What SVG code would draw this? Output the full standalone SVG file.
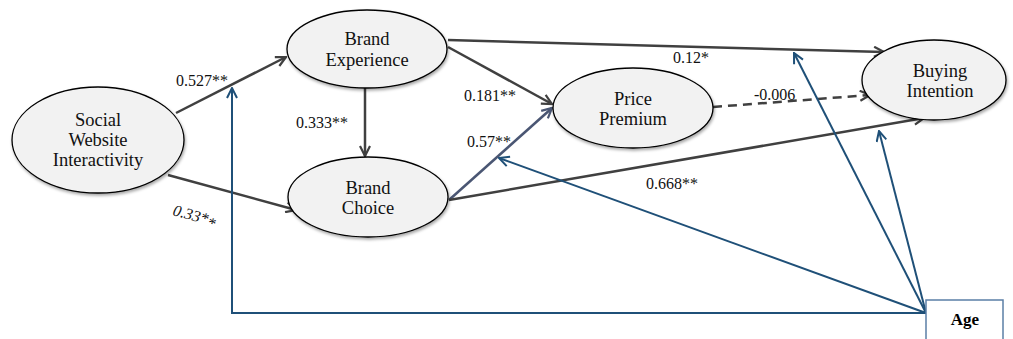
<svg xmlns="http://www.w3.org/2000/svg" width="1013" height="339" viewBox="0 0 1013 339">
<style>
.node ellipse{fill:#f2f2f2;stroke:#000;stroke-width:1.3;filter:url(#sh)}
.t{font-family:"Liberation Serif",Tinos,"Nimbus Roman","DejaVu Serif",serif;font-size:18.5px;fill:#111;text-anchor:middle}
.lb{font-family:"Liberation Serif",Tinos,"Nimbus Roman","DejaVu Serif",serif;font-size:16px;fill:#111}
.g{stroke:#404040;stroke-width:2.5;fill:none;marker-end:url(#ag)}
.b{stroke:#1f5078;stroke-width:2;fill:none;marker-end:url(#ab)}
</style>
<defs>
<filter id="sh" x="-10%" y="-10%" width="125%" height="130%">
<feDropShadow dx="1" dy="2" stdDeviation="1.5" flood-color="#000" flood-opacity="0.35"/>
</filter>
<marker id="ag" viewBox="0 0 12 12" refX="11" refY="6" markerWidth="12" markerHeight="12" markerUnits="userSpaceOnUse" orient="auto">
<path d="M1,1 L11,6 L1,11" fill="none" stroke="#404040" stroke-width="2.2"/>
</marker>
<marker id="as" viewBox="0 0 12 12" refX="11" refY="6" markerWidth="12" markerHeight="12" markerUnits="userSpaceOnUse" orient="auto">
<path d="M1,1 L11,6 L1,11" fill="none" stroke="#4a5673" stroke-width="2.2"/>
</marker>
<marker id="ab" viewBox="0 0 12 12" refX="11" refY="6" markerWidth="12" markerHeight="12" markerUnits="userSpaceOnUse" orient="auto">
<path d="M1,1 L11,6 L1,11" fill="none" stroke="#1f5078" stroke-width="2"/>
</marker>
</defs>
<g id="connectors">
<line class="g" x1="176" y1="113" x2="286" y2="57"/>
<line class="g" x1="168" y1="175" x2="296" y2="210"/>
<line class="g" x1="365" y1="88" x2="365" y2="156"/>
<line class="g" x1="448" y1="47" x2="552" y2="104"/>
<line x1="449" y1="200" x2="552" y2="108" stroke="#4a5673" stroke-width="2.5" marker-end="url(#as)"/>
<line class="g" x1="448" y1="40" x2="884" y2="52"/>
<line class="g" x1="713" y1="107" x2="870" y2="95" stroke-dasharray="9,6"/>
<line class="g" x1="449" y1="200" x2="924" y2="118"/>
<polyline class="b" points="926,313 232,313 232,88"/>
<line class="b" x1="926" y1="313" x2="499" y2="158"/>
<line class="b" x1="926" y1="313" x2="794" y2="53"/>
<line class="b" x1="926" y1="313" x2="879" y2="131"/>
</g>
<g id="labels">
<text class="lb" x="176" y="86">0.527**</text>
<text class="lb" x="296" y="128">0.333**</text>
<text class="lb" x="464" y="101">0.181**</text>
<text class="lb" x="467" y="147">0.57**</text>
<text class="lb" x="673" y="63">0.12*</text>
<text class="lb" x="754" y="100">-0.006</text>
<text class="lb" x="646" y="189">0.668**</text>
<text class="lb" font-style="italic" transform="translate(172,215) rotate(15)">0.33*<tspan dy="3">*</tspan></text>
</g>
<g id="swi" class="node">
<ellipse cx="98" cy="140" rx="86" ry="53"/>
<text class="t" x="98" y="126">Social</text>
<text class="t" x="98" y="146">Website</text>
<text class="t" x="98" y="166">Interactivity</text>
</g>
<g id="be" class="node">
<ellipse cx="367" cy="49" rx="80" ry="39"/>
<text class="t" x="367" y="45">Brand</text>
<text class="t" x="367" y="66">Experience</text>
</g>
<g id="bc" class="node">
<ellipse cx="368" cy="197" rx="80" ry="40"/>
<text class="t" x="368" y="194">Brand</text>
<text class="t" x="368" y="214">Choice</text>
</g>
<g id="pp" class="node">
<ellipse cx="633" cy="108" rx="80" ry="40"/>
<text class="t" x="633" y="105">Price</text>
<text class="t" x="633" y="125">Premium</text>
</g>
<g id="bi" class="node">
<ellipse cx="934" cy="80" rx="72" ry="40"/>
<text class="t" x="940" y="77">Buying</text>
<text class="t" x="940" y="97">Intention</text>
</g>
<g id="age">
<rect x="926" y="300" width="77" height="50" fill="#fff" stroke="#5b7fa6" stroke-width="1.5"/>
<text x="965" y="325" font-family="'Liberation Serif',Tinos,'Nimbus Roman','DejaVu Serif',serif" font-size="17" font-weight="bold" text-anchor="middle" fill="#000">Age</text>
</g>
</svg>
